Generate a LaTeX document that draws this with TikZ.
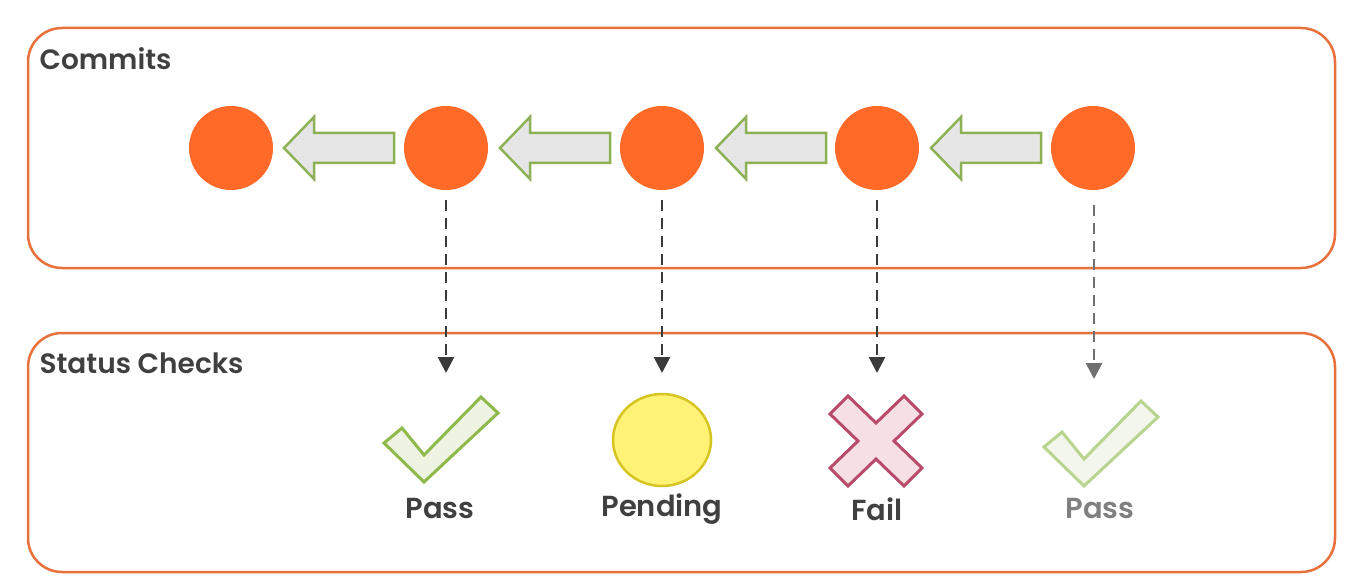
\documentclass[tikz,border=0pt]{standalone}
\usepackage{fontspec}
\setmainfont{Poppins}[BoldFont={Poppins SemiBold}]
\usetikzlibrary{calc,arrows.meta,shapes.geometric}
\definecolor{boxor}{HTML}{E8703A}
\definecolor{dotor}{HTML}{FF6A28}
\definecolor{arrfill}{HTML}{E6E6E6}
\definecolor{arrgreen}{HTML}{8DB255}
\definecolor{chkfill}{HTML}{EEF3E2}
\definecolor{chkgreen}{HTML}{8DBA4A}
\definecolor{chkfill2}{HTML}{F2F6EC}
\definecolor{chkgreen2}{HTML}{B8D48E}
\definecolor{penfill}{HTML}{FFF275}
\definecolor{penline}{HTML}{D6C420}
\definecolor{xfill}{HTML}{F6E0E6}
\definecolor{xline}{HTML}{B84A6A}
\definecolor{txt}{HTML}{404040}
\definecolor{txtgray}{HTML}{808080}
\definecolor{dashdark}{HTML}{3A3A3A}
\definecolor{dashgray}{HTML}{707070}
\tikzset{
  panel/.style={draw=boxor, line width=2.5pt, rounded corners=34pt},
  paneltitle/.style={anchor=west, text=txt, font=\fontsize{28}{32}\selectfont\bfseries},
  commit/.style={circle, fill=dotor, minimum size=84pt, inner sep=0pt},
  blockarr/.style={fill=arrfill, draw=arrgreen, line width=2.5pt, line join=miter},
  dasharr/.style={draw=dashdark, line width=2.8pt, dash pattern=on 11pt off 7pt, -{Triangle[length=16pt,width=16pt]}},
  dasharrgray/.style={dasharr, draw=dashgray},
  statlabel/.style={text=txt, font=\fontsize{29}{32}\selectfont\bfseries},
}
\newcommand{\leftblockarrow}[1]{%
  \draw[blockarr, shift={#1}] (0,0) -- (30,-31) -- (30,-15) -- (110,-15) -- (110,15) -- (30,15) -- (30,31) -- cycle;}
\newcommand{\checkmk}[3]{%
  \draw[fill=#2, draw=#3, line width=3pt, line join=miter, shift={#1}]
   (0,0) -- (18,-15) -- (40,12) -- (97,-46) -- (114,-30) -- (40,39) -- cycle;}
\begin{document}
\begin{tikzpicture}[x=1pt,y=-1pt]
\useasboundingbox (0,0) rectangle (1352,588);
% panels
\draw[panel] (28,28) rectangle (1335,268);
\draw[panel] (28,333) rectangle (1335,572);
\node[paneltitle] (tc) at (36,59) {Commits};
\node[paneltitle] (ts) at (36,363) {Status Checks};
% commits
\node[commit] (c1) at (231,148) {};
\node[commit] (c2) at (446,148) {};
\node[commit] (c3) at (662,148) {};
\node[commit] (c4) at (877,148) {};
\node[commit] (c5) at (1093,148) {};
% block arrows
\leftblockarrow{(284,148)}
\leftblockarrow{(500,148)}
\leftblockarrow{(716,148)}
\leftblockarrow{(931,148)}
% status icons
\checkmk{(384,443)}{chkfill}{chkgreen}
\node[ellipse, fill=penfill, draw=penline, line width=2.5pt, minimum width=98pt, minimum height=92pt, inner sep=0pt] (pend) at (662,440) {};
\draw[fill=xfill, draw=xline, line width=3pt, line join=miter, shift={(876,441)}]
  (-46,-27) -- (-28,-45) -- (0,-18) -- (28,-45) -- (46,-27) -- (18,0) -- (46,27) -- (28,45) -- (0,18) -- (-28,45) -- (-46,27) -- (-18,0) -- cycle;
\checkmk{(1044,447)}{chkfill2}{chkgreen2}
% labels
\node[statlabel] (l1) at (440,509) {Pass};
\node[statlabel] (l2) at (662,509) {Pending};
\node[statlabel] (l3) at (877,509) {Fail};
\node[statlabel, text=txtgray] (l4) at (1100,509) {Pass};
% dashed connectors
\coordinate (s2) at (446,200); \coordinate (t2) at (446,373);
\coordinate (s3) at (662,200); \coordinate (t3) at (662,373);
\coordinate (s4) at (877,200); \coordinate (t4) at (877,373);
\coordinate (s5) at (1094,205); \coordinate (t5) at (1094,379);
\draw[dasharr] (s2) -- (t2);
\draw[dasharr] (s3) -- (t3);
\draw[dasharr] (s4) -- (t4);
\draw[dasharrgray] (s5) -- (t5);
\end{tikzpicture}
\end{document}
